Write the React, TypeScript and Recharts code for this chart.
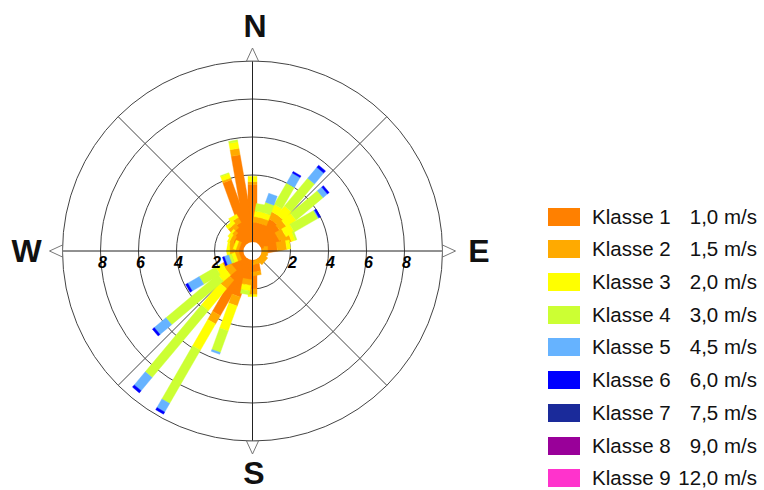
import React from "react";
import {
  RadialBarChart,
  RadialBar,
  PolarAngleAxis,
  PolarRadiusAxis,
  PolarGrid,
} from "recharts";

// wind directions (degrees, clockwise from north)
const directions = [
  0, 10, 20, 30, 40, 50, 60, 70, 80, 90, 100, 110, 120, 130, 140, 150, 160, 170,
  180, 190, 200, 210, 220, 230, 240, 250, 260, 270, 280, 290, 300, 310, 320, 330, 340, 350,
];

// stacked length per speed class
const klasse1 = [3.5, 1.5, 1.5, 1.9, 1.9, 1.8, 1.5, 1.6, 1.3, 0.6, 0.5, 0.5, 0.6, 0.7, 0.6, 0.5, 0.6, 1.1, 2.0, 1.5, 2.5, 3.8, 1.8, 1.3, 1.4, 0.7, 0.9, 0.9, 1.0, 0.7, 1.1, 1.2, 1.4, 1.6, 3.9, 5.1];
const klasse2 = [0.15, 0.3, 0.3, 0.4, 0.4, 0.4, 0.4, 0.5, 0.5, 0.2, 0.15, 0.1, 0.15, 0.15, 0.1, 0.1, 0.1, 0.2, 0.3, 0.3, 0.5, 0.5, 0.6, 0.4, 0.3, 0.2, 0.3, 0.3, 0.25, 0.15, 0.2, 0.2, 0.3, 0.3, 0.1, 0.35];
const klasse3 = [0.28, 0.3, 0.3, 0.4, 0.6, 0.6, 0.5, 0.2, 0.2, 0, 0, 0, 0, 0, 0, 0, 0, 0, 0.1, 0.3, 1.4, 1.6, 1.5, 0.5, 0.4, 0.2, 0.15, 0.1, 0.1, 0.15, 0.1, 0.1, 0.2, 0.2, 0.25, 0.35];
const klasse4 = [0, 0.4, 0.55, 1.3, 1.9, 1.85, 1.45, 0.1, 0, 0, 0, 0, 0, 0, 0, 0, 0, 0, 0, 0.2, 1.2, 3.23, 4.6, 3.55, 1.0, 0.15, 0, 0, 0, 0, 0, 0, 0, 0, 0.05, 0.1];
const klasse5 = [0, 0, 0.5, 0.6, 0.75, 0.3, 0.05, 0, 0, 0, 0, 0, 0, 0, 0, 0, 0, 0, 0, 0, 0.1, 0.52, 0.9, 0.8, 0.7, 0.25, 0, 0, 0, 0, 0, 0, 0, 0, 0, 0];
const klasse6 = [0, 0, 0, 0.1, 0.15, 0.12, 0.1, 0, 0, 0, 0, 0, 0, 0, 0, 0, 0, 0, 0, 0, 0, 0.13, 0.15, 0.13, 0.13, 0.1, 0, 0, 0, 0, 0, 0, 0, 0, 0, 0];

const classNames = ["Klasse 1", "Klasse 2", "Klasse 3", "Klasse 4", "Klasse 5", "Klasse 6", "Klasse 7", "Klasse 8", "Klasse 9"];
const classSpeeds = ["1,0 m/s", "1,5 m/s", "2,0 m/s", "3,0 m/s", "4,5 m/s", "6,0 m/s", "7,5 m/s", "9,0 m/s", "12,0 m/s"];
const classColors = ["#FF8000", "#FFAA00", "#FFFF00", "#CCFF33", "#66B3FF", "#0000FF", "#1A2A9A", "#990099", "#FF33CC"];

const radiusTicks = [2, 4, 6, 8];
const gridRadii = [2, 4, 6, 8, 10];
const diagonals = [45, 135, 225, 315];

const seriesValues = [klasse1, klasse2, klasse3, klasse4, klasse5, klasse6];
const rows = directions.map((dir, i) => {
  const row: Record<string, number> = { dir };
  seriesValues.forEach((vals, k) => {
    row[`k${k + 1}`] = vals[i];
  });
  return row;
});

const W = 764;
const H = 490;
const CX = 252.5;
const CY = 251;
const R = 190;
const MAX = 10;
const HALF_BAR = 4.5;
const HOLE = 9;
const FONT = "'Liberation Sans', Arial, sans-serif";
const RAD = Math.PI / 180;

// draw each stacked piece as a fixed-width rectangle along the sector's middle angle
function BarShape(props: any) {
  const { cx, cy, innerRadius, outerRadius, startAngle, endAngle, fill } = props;
  if (!(outerRadius - innerRadius > 0.05)) return null;
  const mid = ((startAngle + endAngle) / 2) * RAD;
  const ux = Math.cos(-mid);
  const uy = Math.sin(-mid);
  const px = -uy * HALF_BAR;
  const py = ux * HALF_BAR;
  const corners: [number, number][] = [
    [innerRadius, 1],
    [outerRadius, 1],
    [outerRadius, -1],
    [innerRadius, -1],
  ];
  const pts = corners
    .map(([r, s]) => `${cx + ux * r + px * s},${cy + uy * r + py * s}`)
    .join(" ");
  return <polygon points={pts} fill={fill} stroke={fill} strokeWidth={0.4} />;
}

// tick on the east side, mirrored onto the west side
function RadiusTick(props: any) {
  const { x, y, payload } = props;
  const style = { fontFamily: FONT, fontSize: 16, fontWeight: 700, fontStyle: "italic" as const };
  return (
    <g>
      <text x={x + 2} y={y + 17} textAnchor="middle" fill="#000" style={style}>
        {payload.value}
      </text>
      <text x={2 * CX - x + 2} y={y + 17} textAnchor="middle" fill="#000" style={style}>
        {payload.value}
      </text>
    </g>
  );
}

const layer: React.CSSProperties = { position: "absolute", left: 0, top: 0 };

export default function App() {
  const arrow = 13;
  const half = 6;
  const compass = { fontFamily: FONT, fontSize: 32, fontWeight: 700 };
  return (
    <div
      style={{
        position: "fixed",
        left: 0,
        top: 0,
        width: W,
        height: H,
        background: "#fff",
        overflow: "hidden",
      }}
    >
      <div style={layer}>
        <RadialBarChart
          width={W}
          height={H}
          cx={CX}
          cy={CY}
          innerRadius={0}
          outerRadius={R}
          startAngle={85}
          endAngle={-275}
          data={rows}
          layout="centric"
          margin={{ top: 0, right: 0, bottom: 0, left: 0 }}
        >
          <PolarAngleAxis type="category" dataKey="dir" tick={false} axisLine={false} tickLine={false} />
          <PolarRadiusAxis
            type="number"
            domain={[0, MAX]}
            ticks={radiusTicks}
            angle={0}
            axisLine={false}
            tick={<RadiusTick />}
          />
          {seriesValues.map((_, k) => (
            <RadialBar
              key={k}
              dataKey={`k${k + 1}`}
              stackId="rose"
              fill={classColors[k]}
              shape={<BarShape />}
              isAnimationActive={false}
            />
          ))}
          <PolarGrid
            gridType="circle"
            polarAngles={diagonals}
            polarRadius={gridRadii.map((v) => (v / MAX) * R)}
            innerRadius={HOLE}
            outerRadius={R}
            cx={CX}
            cy={CY}
            stroke="#444"
            strokeWidth={1}
          />
        </RadialBarChart>
      </div>

      <svg style={layer} width={W} height={H}>
        {/* calm hole in the middle */}
        <circle cx={CX} cy={CY} r={HOLE} fill="#fff" />
        <line x1={CX - R} y1={CY} x2={CX + R} y2={CY} stroke="#222" strokeWidth={1} />
        <line x1={CX} y1={CY - R} x2={CX} y2={CY + R} stroke="#222" strokeWidth={1} />
        <g fill="#fff" stroke="#777" strokeWidth={1}>
          <polygon points={`${CX},${CY - R - arrow} ${CX - half},${CY - R} ${CX + half},${CY - R}`} />
          <polygon points={`${CX},${CY + R + arrow} ${CX - half},${CY + R} ${CX + half},${CY + R}`} />
          <polygon points={`${CX - R - arrow},${CY} ${CX - R},${CY - half} ${CX - R},${CY + half}`} />
          <polygon points={`${CX + R + arrow},${CY} ${CX + R},${CY - half} ${CX + R},${CY + half}`} />
        </g>
        <g fill="#111" style={compass} textAnchor="middle">
          <text x={255} y={36.5}>N</text>
          <text x={254} y={484}>S</text>
          <text x={26.5} y={262}>W</text>
          <text x={479} y={262}>E</text>
        </g>
      </svg>

      <div
        style={{
          position: "absolute",
          left: 548,
          top: 200.35,
          fontFamily: FONT,
          fontSize: 20.5,
          color: "#111",
          whiteSpace: "nowrap",
        }}
      >
        {classNames.map((name, i) => (
          <div key={name} style={{ display: "flex", alignItems: "center", height: 32.7 }}>
            <div style={{ width: 32, height: 18, background: classColors[i] }} />
            <span style={{ marginLeft: 12, width: 84.4 }}>{name}</span>
            <span style={{ width: 80.6, textAlign: "right" }}>{classSpeeds[i]}</span>
          </div>
        ))}
      </div>
    </div>
  );
}
